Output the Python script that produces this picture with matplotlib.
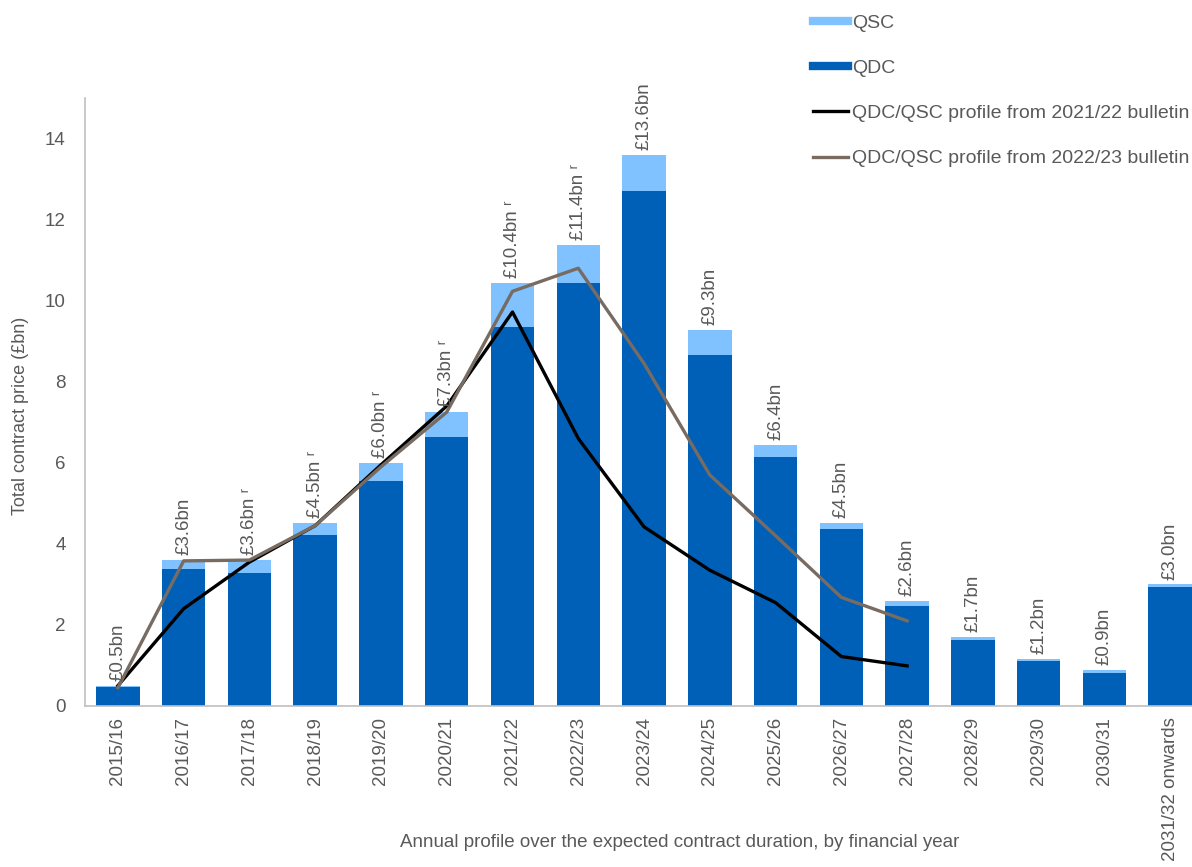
import numpy as np
import matplotlib.pyplot as plt
from matplotlib.lines import Line2D

years = ['2015/16', '2016/17', '2017/18', '2018/19', '2019/20', '2020/21', '2021/22',
         '2022/23', '2023/24', '2024/25', '2025/26', '2026/27', '2027/28', '2028/29',
         '2029/30', '2030/31', '2031/32 onwards']
qdc = [0.47, 3.39, 3.28, 4.22, 5.55, 6.64, 9.34, 10.44, 12.70, 8.67, 6.15, 4.37, 2.47,
       1.62, 1.10, 0.81, 2.93]
qsc = [0.03, 0.21, 0.32, 0.30, 0.45, 0.62, 1.10, 0.94, 0.90, 0.60, 0.29, 0.15, 0.12,
       0.08, 0.07, 0.08, 0.07]
labels = ['£0.5bn', '£3.6bn', '£3.6bn ʳ', '£4.5bn ʳ', '£6.0bn ʳ', '£7.3bn ʳ', '£10.4bn ʳ',
          '£11.4bn ʳ', '£13.6bn', '£9.3bn', '£6.4bn', '£4.5bn', '£2.6bn', '£1.7bn',
          '£1.2bn', '£0.9bn', '£3.0bn']
# profiles from previous bulletins (2015/16 to 2027/28)
prev_2122 = [0.5, 2.4, 3.55, 4.45, 5.95, 7.4, 9.72, 6.6, 4.42, 3.35, 2.55, 1.22, 0.99]
prev_2223 = [0.45, 3.58, 3.6, 4.45, 5.9, 7.25, 10.23, 10.8, 8.45, 5.7, 4.2, 2.68, 2.1]

dark = '#0060B8'
light = '#80C1FF'
grey_txt = '#595959'

plt.rcParams['font.family'] = ['Liberation Sans', 'DejaVu Sans']

fig = plt.figure(figsize=(11.92, 8.67), dpi=100)
ax = fig.add_axes([0.0713, 0.1857, 0.938, 0.7013])

x = np.arange(len(years))
w = 0.66
ax.bar(x, qdc, w, color=dark, zorder=2)
ax.bar(x, qsc, w, bottom=qdc, color=light, zorder=2)

totals = np.array(qdc) + np.array(qsc)
for i, t in enumerate(totals):
    ax.text(i, t + 0.12, labels[i], rotation=90, ha='center', va='bottom',
            fontsize=13.5, color=grey_txt, zorder=4)

ax.plot(x[:len(prev_2122)], prev_2122, color='black', lw=2.4, zorder=3)
ax.plot(x[:len(prev_2223)], prev_2223, color='#776B62', lw=2.4, zorder=3)

ax.set_xlim(-0.5, len(years) - 0.5)
ax.set_ylim(0, 15)
ax.set_yticks(range(0, 15, 2))
ax.set_xticks(x)
ax.set_xticklabels(years, rotation=90)
ax.tick_params(axis='both', length=0, labelsize=13.5, labelcolor=grey_txt)
ax.tick_params(axis='x', pad=8)
ax.tick_params(axis='y', pad=14)
for s in ['top', 'right']:
    ax.spines[s].set_visible(False)
for s in ['left', 'bottom']:
    ax.spines[s].set_color('#BFBFBF')
    ax.spines[s].set_linewidth(1.2)

fig.text(0.017, 0.52, 'Total contract price (£bn)', rotation=90, ha='center', va='center',
         fontsize=13, color=grey_txt)
fig.text(0.57, 0.028, 'Annual profile over the expected contract duration, by financial year',
         ha='center', va='center', fontsize=13.5, color=grey_txt)

handles = [Line2D([0], [0], color=light, lw=6),
           Line2D([0], [0], color=dark, lw=6),
           Line2D([0], [0], color='black', lw=2.4),
           Line2D([0], [0], color='#776B62', lw=2.4)]
names = ['QSC', 'QDC', 'QDC/QSC profile from 2021/22 bulletin',
         'QDC/QSC profile from 2022/23 bulletin']
leg = fig.legend(handles, names, loc='upper left', bbox_to_anchor=(0.667, 1.004),
                 frameon=False, fontsize=14, handlelength=1.8, handletextpad=0.25,
                 labelspacing=1.42, labelcolor=grey_txt)

fig.savefig('out.png', dpi=100)
